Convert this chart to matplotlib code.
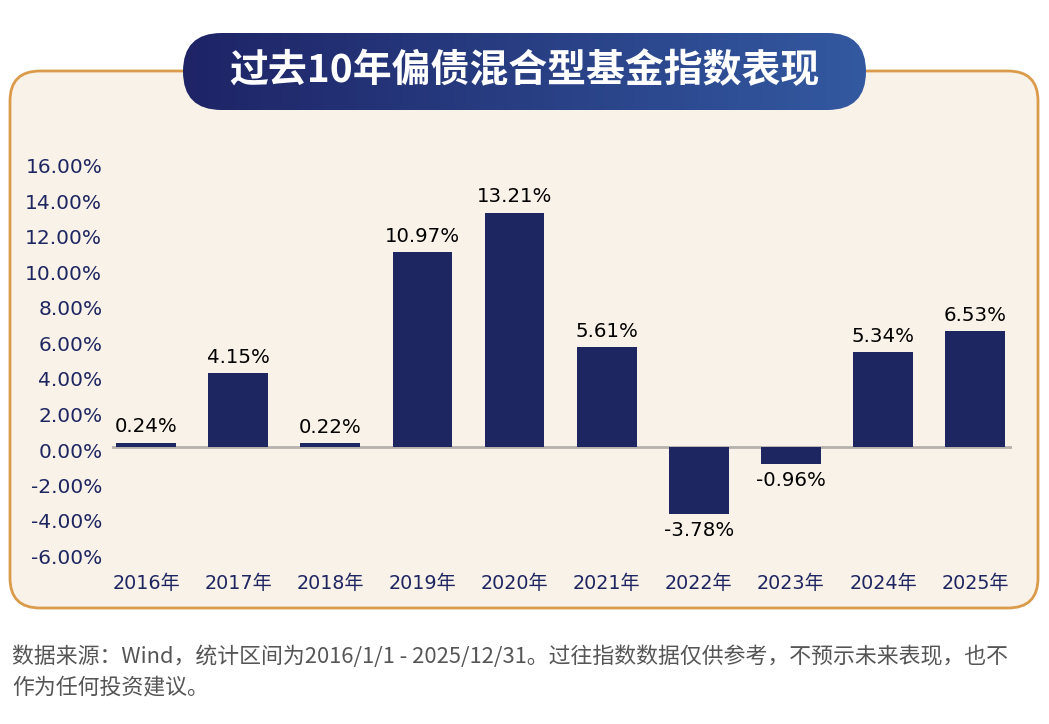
import matplotlib
matplotlib.use("Agg")
import matplotlib.pyplot as plt
from matplotlib.patches import FancyBboxPatch
from matplotlib.transforms import ScaledTranslation
import numpy as np

plt.rcParams['font.family'] = ['Noto Sans CJK SC', 'DejaVu Sans']
plt.rcParams['axes.unicode_minus'] = False

# data
years = ['2016年', '2017年', '2018年', '2019年', '2020年',
         '2021年', '2022年', '2023年', '2024年', '2025年']
returns = [0.24, 4.15, 0.22, 10.97, 13.21, 5.61, -3.78, -0.96, 5.34, 6.53]
yticks = [-6, -4, -2, 0, 2, 4, 6, 8, 10, 12, 14, 16]
title = '过去10年偏债混合型基金指数表现'
note1 = '数据来源：Wind，统计区间为2016/1/1 - 2025/12/31。过往指数数据仅供参考，不预示未来表现，也不'
note2 = '作为任何投资建议。'

navy = '#1E2661'
num_font = ['DejaVu Sans', 'Noto Sans CJK SC']
W, H = 1049, 724
fig = plt.figure(figsize=(W / 100, H / 100), dpi=100)
fig.patch.set_facecolor('white')

# background layer in pixel coords
bg = fig.add_axes([0, 0, 1, 1], zorder=0)
bg.set_xlim(0, W)
bg.set_ylim(H, 0)
bg.axis('off')

panel = FancyBboxPatch((10, 71), 1028, 537, boxstyle="round,pad=0,rounding_size=30",
                       facecolor='#F9F2E9', edgecolor='#DA9B4B', linewidth=2)
bg.add_patch(panel)

pill = FancyBboxPatch((183, 33), 683, 77, boxstyle="round,pad=0,rounding_size=38.5",
                      facecolor='none', edgecolor='none')
bg.add_patch(pill)
grad = np.linspace(0, 1, 256).reshape(1, -1)
cmap = matplotlib.colors.LinearSegmentedColormap.from_list('pill', ['#1E2466', '#3359A1'])
im = bg.imshow(grad, cmap=cmap, extent=(183, 866, 110, 33), aspect='auto', zorder=2)
im.set_clip_path(pill)
bg.set_xlim(0, W)
bg.set_ylim(H, 0)
bg.text(524.5, 71, title, color='white', fontsize=28, fontweight='bold',
        ha='center', va='center', zorder=3)

bg.text(12, 657, note1, color='#555555', fontsize=15.75, ha='left', va='center')
bg.text(12, 687, note2, color='#555555', fontsize=15.75, ha='left', va='center')

# chart axes
x0, x1 = 112, 1012
ytop, ybot = 163, 553.5
ax = fig.add_axes([x0 / W, (H - ybot) / H, (x1 - x0) / W, (ybot - ytop) / H], zorder=1)
ax.patch.set_alpha(0)

pos = np.arange(len(years))
ax.bar(pos, returns, width=0.65, color=navy, zorder=2)
ax.axhline(0, color='#B5B2AE', linewidth=2, zorder=1)

for p, v in zip(pos, returns):
    off = 16 if v >= 0 else -16
    ax.annotate(f'{v:.2f}%', (p, v), xytext=(0, off), textcoords='offset pixels',
                ha='center', va='center', fontsize=14.2, color='black', family=num_font)

ax.set_xlim(-0.37, 9.40)
ax.set_ylim(-6, 16)
ax.set_yticks(yticks)
ax.set_yticklabels([f'{t:.2f}%' for t in yticks], family=num_font)
ax.set_xticks(pos)
ax.set_xticklabels(years, family=num_font)
ax.tick_params(axis='y', length=0, pad=7, labelsize=14.5, labelcolor=navy)
ax.tick_params(axis='x', length=0, pad=15, labelsize=13.8, labelcolor=navy)
# tick labels sit a few pixels lower than the grid values in the original
shift = ScaledTranslation(0, -3 / 100, fig.dpi_scale_trans)
for lbl in ax.get_yticklabels():
    lbl.set_transform(lbl.get_transform() + shift)
for s in ax.spines.values():
    s.set_visible(False)

fig.savefig('out.png', dpi=100, facecolor='white')
